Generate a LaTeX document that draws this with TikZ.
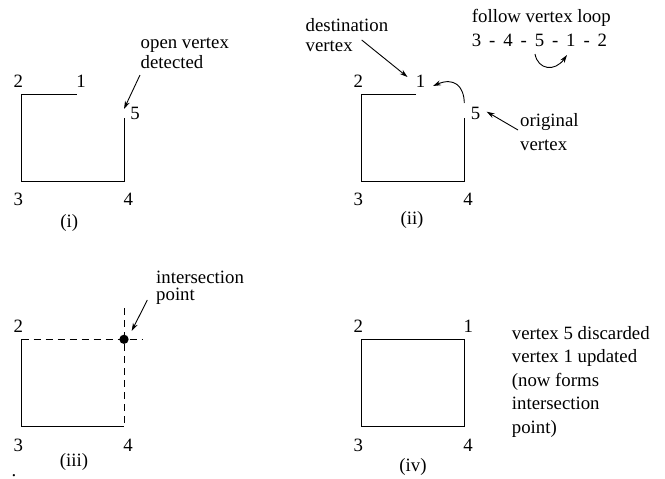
\documentclass[tikz,border=0pt]{standalone}
\usepackage{fontspec}
\setmainfont{Liberation Serif}
\usetikzlibrary{arrows.meta}
\newcommand{\txtsize}[1]{\fontsize{18.8}{#1}\selectfont}
\begin{document}
\begin{tikzpicture}[x=1pt,y=-1pt,
  every node/.style={inner sep=0pt, font=\txtsize{20}},
  edge/.style={line width=0.9pt},
  pointer/.style={line width=0.9pt, -{Stealth[length=8pt,width=5pt]}},
  guide/.style={line width=0.9pt, dash pattern=on 7pt off 5pt},
  % multi-line notes are placed by the baseline of their last line
  note/.style={align=left, anchor=base west},
  dot/.style={circle, fill, minimum size=9.3pt}
]
\useasboundingbox (0,0) rectangle (665,479);

% ---------- (i): open polygon, vertex 5 left dangling ----------
\coordinate (a1) at (76.7,94.3);
\coordinate (a2) at (21.7,94.3);
\coordinate (a3) at (21.7,181);
\coordinate (a4) at (124.3,181);
\coordinate (a5) at (124.3,118.3);
\draw[edge] (a1) -- (a2) -- (a3) -- (a4) -- (a5);
\node (a2l) at (18.3,81.5) {2};
\node (a1l) at (81,81.5) {1};
\node (a5l) at (135,113) {5};
\node (a3l) at (18.3,199) {3};
\node (a4l) at (128.3,199) {4};
\node (acap) at (69.3,223) {(i)};
\node[note] (aopen) at (140.5,68) {open vertex\\detected};
\coordinate (aopentail) at (140,75);
\coordinate (aopentip) at (124,109);
\draw[pointer] (aopentail) -- (aopentip);

% ---------- (ii): follow the vertex loop from 5 to 1 ----------
\coordinate (b1) at (416,94.3);
\coordinate (b2) at (361,94.3);
\coordinate (b3) at (361,181);
\coordinate (b4) at (464.3,181);
\coordinate (b5) at (464.3,118.3);
\draw[edge] (b1) -- (b2) -- (b3) -- (b4) -- (b5);
\node (b2l) at (358.3,81.5) {2};
\node (b1l) at (420.5,81.5) {1};
\node (b5l) at (475.5,113) {5};
\node (b3l) at (358.3,199) {3};
\node (b4l) at (468,199) {4};
\node (bcap) at (412,220) {(ii)};
\node[note, font=\txtsize{20}] (bdest) at (305.5,51) {destination\\vertex};
\coordinate (bdesttail) at (361.7,40);
\coordinate (bdesttip) at (407.5,77);
\draw[pointer] (bdesttail) -- (bdesttip);
\node[note, font=\txtsize{24}] (borig) at (520,150) {original\\vertex};
\coordinate (borigtail) at (518,130);
\coordinate (borigtip) at (486.7,111.7);
\draw[pointer] (borigtail) -- (borigtip);
\coordinate (bjumpfrom) at (464.3,103);
\coordinate (bjumpto) at (433,86);
\draw[pointer] (bjumpfrom) .. controls (464,86) and (454,77) .. (bjumpto);
\node[note] (bfollow) at (471.7,23) {follow vertex loop};
\node[note] (bloop) at (471.7,46.7) {\spaceskip=0.42em 3 - 4 - 5 - 1 - 2};
\coordinate (bloopfrom) at (535,54);
\coordinate (bloopto) at (567,55);
\draw[pointer] (bloopfrom) .. controls (538,70) and (555,72) .. (bloopto);

% ---------- (iii): extended edges meet at the intersection ----------
\coordinate (c2) at (21.7,339.3);
\coordinate (c3) at (21.7,426);
\coordinate (c4) at (124,426);
\coordinate (chend) at (142,339.3);
\coordinate (cvtop) at (124,308);
\draw[edge] (c2) -- (c3) -- (c4);
\draw[guide] (c2) -- (chend);
\draw[guide] (cvtop) -- (c4);
\node[dot] (cx) at (124,339.3) {};
\node (c2l) at (18.3,326.7) {2};
\node (c3l) at (18.3,445) {3};
\node (c4l) at (128,445) {4};
\node (ccap) at (74,462) {(iii)};
\node[note, font=\txtsize{17}] (cint) at (156,300) {intersection\\point};
\coordinate (cinttail) at (147.3,300);
\coordinate (cinttip) at (131.7,331);
\draw[pointer] (cinttail) -- (cinttip);
\node[anchor=base] (cstop) at (14,476) {.};

% ---------- (iv): closed polygon after the update ----------
\coordinate (d2) at (361,339.3);
\coordinate (d4) at (464,426);
\draw[edge] (d2) rectangle (d4);
\node (d2l) at (358.3,326.7) {2};
\node (d1l) at (468.3,326.7) {1};
\node (d3l) at (358.3,445) {3};
\node (d4l) at (468,445) {4};
\node (dcap) at (413,467) {(iv)};
\node[note, font=\txtsize{23.5}] (dnote) at (511.7,433)
  {vertex 5 discarded\\vertex 1 updated\\(now forms\\intersection\\point)};
\end{tikzpicture}
\end{document}
